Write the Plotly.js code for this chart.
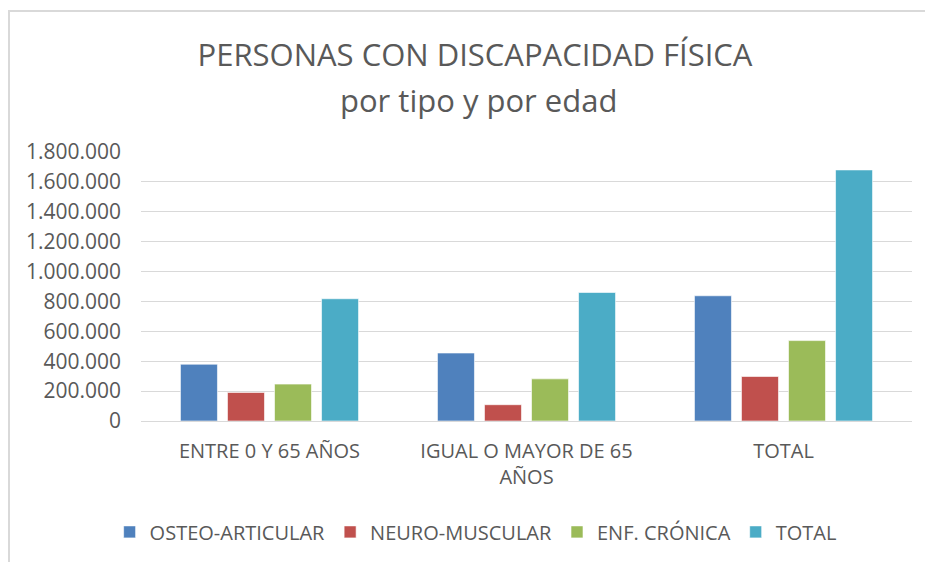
<!DOCTYPE html>
<html>
<head>
<meta charset="utf-8">
<script src="https://cdn.plot.ly/plotly-3.0.1.min.js"></script>
<style>
  html, body { margin: 0; padding: 0; background: #ffffff; }
  #wrap { position: relative; width: 925px; height: 562px; overflow: hidden; }
  #chart { position: absolute; left: 0; top: 0; width: 925px; height: 562px; }
  #frame { position: absolute; left: 8px; top: 10px; width: 930px; height: 560px;
           border-left: 2px solid #d9d9d9; border-top: 2px solid #d9d9d9; pointer-events: none; }
</style>
</head>
<body>
<div id="wrap">
  <div id="chart"></div>
  <div id="frame"></div>
</div>
<script>
const categories = ["ENTRE 0 Y 65 AÑOS", "IGUAL O MAYOR DE 65<br>AÑOS", "TOTAL"];
const seriesNames = ["OSTEO-ARTICULAR", "NEURO-MUSCULAR", "ENF. CRÓNICA", "TOTAL"];
const osteoArticular = [380000, 455000, 838000];
const neuroMuscular = [191000, 109000, 298000];
const enfCronica = [247000, 282000, 538000];
const totalValues = [818000, 860000, 1680000];
const colors = ["#4F81BD", "#C0504D", "#9BBB59", "#4BACC6"];
const yTicks = [0, 200000, 400000, 600000, 800000, 1000000, 1200000, 1400000, 1600000, 1800000];

const FONT = "Open Sans, Liberation Sans, sans-serif";
const seriesValues = [osteoArticular, neuroMuscular, enfCronica, totalValues];

const traces = seriesValues.map((vals, i) => ({
  type: "bar",
  name: seriesNames[i],
  x: categories,
  y: vals,
  marker: { color: colors[i], line: { color: "rgba(255,255,255,0.6)", width: 1 } },
  hoverinfo: "x+y+name"
}));

const layout = {
  width: 925,
  height: 562,
  paper_bgcolor: "#ffffff",
  plot_bgcolor: "#ffffff",
  separators: ",.",
  margin: { l: 141, r: 13, t: 152, b: 140 },
  font: { family: FONT, color: "#595959", size: 17 },
  title: {
    text: "PERSONAS CON DISCAPACIDAD FÍSICA",
    font: { family: FONT, size: 31, color: "#595959" },
    x: 475 / 925, xref: "container", xanchor: "center",
    y: 1 - 55 / 562, yref: "container", yanchor: "middle"
  },
  annotations: [{
    text: "por tipo y por edad",
    xref: "paper", yref: "paper",
    x: 0.438, y: 1.0, xanchor: "center", yanchor: "middle",
    yshift: 52,
    showarrow: false,
    font: { family: FONT, size: 31, color: "#595959" }
  }],
  barmode: "group",
  bargap: 0.268,
  bargroupgap: 0.213,
  xaxis: {
    type: "category",
    showgrid: false,
    showline: true,
    linecolor: "#d9d9d9",
    linewidth: 1,
    ticks: "",
    ticklabelstandoff: 12,
    tickfont: { family: FONT, size: 20, color: "#595959" },
    fixedrange: true
  },
  yaxis: {
    range: [0, 1800000],
    tickvals: yTicks,
    tickformat: ",d",
    showgrid: true,
    gridcolor: "#d9d9d9",
    gridwidth: 1,
    zeroline: false,
    showline: false,
    ticks: "",
    ticklabelstandoff: 19,
    tickfont: { family: FONT, size: 21, color: "#595959" },
    fixedrange: true
  },
  showlegend: true,
  legend: {
    orientation: "h",
    x: 0.434, xanchor: "center",
    y: -0.407, yanchor: "middle",
    font: { family: FONT, size: 20, color: "#595959" },
    itemwidth: 30,
    traceorder: "normal"
  }
};

Plotly.newPlot("chart", traces, layout, { displayModeBar: false, staticPlot: true });
</script>
</body>
</html>
